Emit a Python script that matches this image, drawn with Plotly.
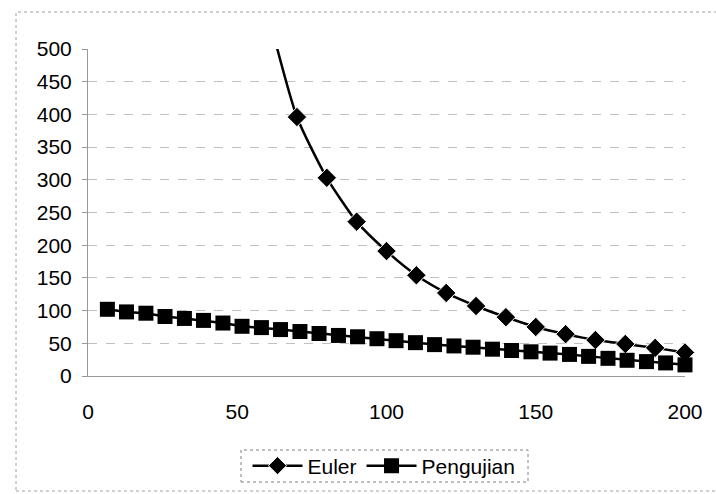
import plotly.graph_objects as go

euler_x = [60, 70, 80, 90, 100, 110, 120, 130, 140, 150, 160, 170, 180, 190, 200]
euler_y = [560, 396, 303, 236, 191, 154, 127, 107, 90, 75, 64, 55, 49, 43, 36]

peng_x = [6.5, 12.9, 19.4, 25.8, 32.3, 38.7, 45.2, 51.6, 58.1, 64.5, 71.0, 77.4,
          83.9, 90.3, 96.8, 103.2, 109.7, 116.1, 122.6, 129.0, 135.5, 141.9, 148.4,
          154.8, 161.3, 167.7, 174.2, 180.6, 187.1, 193.5, 200.0]
peng_y = [102, 98, 96, 91, 88, 85, 81, 76, 74, 71, 68, 65, 62, 60, 57, 54, 51, 48,
          46, 44, 41, 39, 37, 35, 33, 30, 27, 24, 22, 20, 17]

x_ticks = [0, 50, 100, 150, 200]
y_ticks = [0, 50, 100, 150, 200, 250, 300, 350, 400, 450, 500]

FONT = "Liberation Sans, Arial, sans-serif"
Y_MAX = 500

fig = go.Figure()
fig.add_trace(go.Scatter(
    x=euler_x, y=euler_y, name="Euler", mode="lines+markers",
    line=dict(color="black", width=2.5, shape="spline", smoothing=0.6),
    marker=dict(symbol="diamond", color="black", opacity=1,
                size=[15 if v <= Y_MAX else 0 for v in euler_y]),
    cliponaxis=False,
))
fig.add_trace(go.Scatter(
    x=peng_x, y=peng_y, name="Pengujian", mode="lines+markers",
    line=dict(color="black", width=2.5),
    marker=dict(symbol="square", size=15, color="black"),
    cliponaxis=False,
))

L, R, T, B = 88, 31, 49, 118
W, H = 716, 494
pw, ph = W - L - R, H - T - B

def px(xp):
    return (xp - L) / pw

def py(yp):
    return (H - B - yp) / ph

shapes = [
    dict(type="rect", xref="paper", yref="paper",
         x0=px(16), x1=px(730), y0=py(491), y1=py(12),
         line=dict(color="#a0a0a0", width=1, dash="dot")),
    dict(type="rect", xref="paper", yref="paper",
         x0=px(241), x1=px(528), y0=py(482), y1=py(450),
         line=dict(color="#808080", width=1, dash="dot")),
]

fig.update_layout(
    width=W, height=H,
    margin=dict(l=L, r=R, t=T, b=B, autoexpand=False),
    paper_bgcolor="white", plot_bgcolor="white",
    font=dict(family=FONT, size=21, color="black"),
    showlegend=True,
    legend=dict(orientation="h", x=px(384), xanchor="center",
                y=py(466), yanchor="middle",
                font=dict(size=21), itemwidth=50,
                bgcolor="rgba(0,0,0,0)"),
    shapes=shapes,
    xaxis=dict(range=[0, 200], tickvals=x_ticks, showgrid=False, zeroline=False,
               showline=True, linecolor="#999999", linewidth=1,
               ticks="", ticklabelstandoff=17, automargin=False),
    yaxis=dict(range=[0, Y_MAX], tickvals=y_ticks, showgrid=True,
               gridcolor="#c0c0c0", griddash="dash", gridwidth=1,
               zeroline=False, showline=True, linecolor="#999999", linewidth=1,
               ticks="outside", ticklen=5, tickcolor="#999999",
               ticklabelstandoff=6, automargin=False),
)

fig.write_html("out.html")
